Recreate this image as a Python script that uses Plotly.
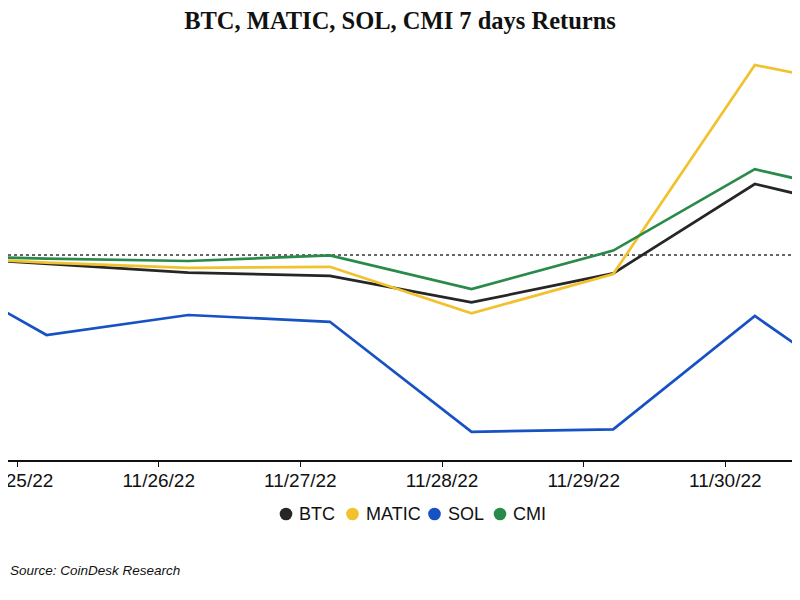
import plotly.graph_objects as go

dates = ["2022-11-24 05:00", "2022-11-25 05:00", "2022-11-26 05:00", "2022-11-27 05:00",
         "2022-11-28 05:00", "2022-11-29 05:00", "2022-11-30 05:00", "2022-12-01 05:00"]

btc = [0.0, -0.45, -0.88, -1.04, -2.37, -0.92, 3.55, 1.88]
matic = [0.0, -0.38, -0.64, -0.59, -2.92, -0.95, 9.50, 8.09]
sol = [0.0, -4.00, -3.00, -3.34, -8.84, -8.72, -3.05, -8.00]
cmi = [0.0, -0.18, -0.30, -0.02, -1.70, 0.22, 4.29, 2.66]

series_names = ["BTC", "MATIC", "SOL", "CMI"]
series_values = [btc, matic, sol, cmi]
colors = ["#262626", "#f2c12e", "#1652c4", "#2a8a4a"]

W, H = 800, 600
OFF = 8  # page body margin offset of the figure div
# plot area in figure pixels
plot_left, plot_right = 0, 792
plot_top, plot_bottom = 32, 452

fig = go.Figure()
for name, vals, col in zip(series_names, series_values, colors):
    fig.add_trace(go.Scatter(x=dates, y=vals, mode="lines", name=name,
                             line=dict(color=col, width=2.7), showlegend=False))

fig.add_shape(type="line", xref="paper", x0=0, x1=1, yref="y", y0=0, y1=0,
              line=dict(color="#666666", width=2, dash="dot"), layer="below")

pw = plot_right - plot_left
ph = plot_bottom - plot_top


def px_x(page_x):
    return (page_x - OFF - plot_left) / pw


def px_y(page_y):
    return (plot_bottom - (page_y - OFF)) / ph


# custom legend (dot + label)
leg_dot_px = [286, 352.5, 434.5, 500]
leg_y_px = 514
for name, col, dx in zip(series_names, colors, leg_dot_px):
    fig.add_shape(type="circle", xref="paper", yref="paper",
                  xsizemode="pixel", ysizemode="pixel",
                  xanchor=px_x(dx), yanchor=px_y(leg_y_px), x0=-6.3, x1=6.3, y0=-6.3, y1=6.3,
                  fillcolor=col, line=dict(width=0))
    fig.add_annotation(text=name, xref="paper", yref="paper", x=px_x(dx + 11), xanchor="left",
                       y=px_y(leg_y_px), yanchor="middle", showarrow=False,
                       font=dict(family="Liberation Sans", size=18, color="#111111"))

fig.update_layout(
    width=W, height=H,
    paper_bgcolor="white", plot_bgcolor="white",
    margin=dict(l=plot_left, r=W - plot_right, t=plot_top, b=H - plot_bottom, autoexpand=False),
    title=dict(text="<b>BTC, MATIC, SOL, CMI 7 days Returns</b>",
               x=(400 - OFF) / W, xanchor="center", y=1 - (20 - OFF) / H, yanchor="middle",
               yref="container", xref="container",
               font=dict(family="Liberation Serif", size=24.5, color="#111111")),
    xaxis=dict(range=["2022-11-24 22:28", "2022-11-30 12:39"], automargin=False,
               tickformat="%m/%d/%y", tick0="2022-11-25", dtick=86400000,
               showgrid=False, zeroline=False, ticklabeloverflow="allow",
               ticklabelstandoff=-3,
               showline=True, linecolor="#111111", linewidth=1.5,
               ticks="outside", ticklen=5, tickcolor="#111111", tickwidth=1,
               tickfont=dict(family="Liberation Sans", size=19, color="#111111")),
    yaxis=dict(range=[-10.25, 10.75], visible=False, showgrid=False, zeroline=False,
               automargin=False),
    showlegend=False,
)

fig.add_annotation(text="<i>Source: CoinDesk Research</i>", xref="paper", yref="paper",
                   x=px_x(OFF), xanchor="left", y=px_y(570),
                   yanchor="middle", showarrow=False,
                   font=dict(family="Liberation Sans", size=13.5, color="#111111"))

fig.write_html("out.html")
